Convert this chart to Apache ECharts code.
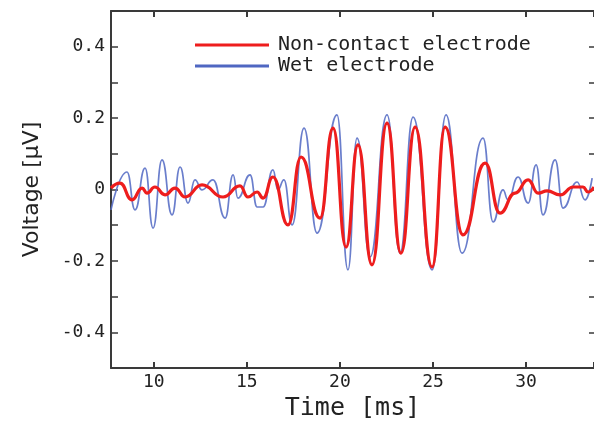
<!DOCTYPE html>
<html>
<head>
<meta charset="utf-8" />
<title>Voltage vs time</title>
<style>html,body{margin:0;padding:0;background:#fff}#chart{width:594px;height:421px}</style>
<script src="https://cdn.jsdelivr.net/npm/echarts@6.0.0/dist/echarts.min.js"></script>
</head>
<body>
<div id="chart"></div>
<script>
// time [ms] / voltage [µV] pairs
const nonContactT = [7.70, 8.18, 8.83, 9.37, 9.63, 10.06, 10.60, 11.14, 11.68, 12.59, 13.72, 14.63, 15.06, 15.55, 15.87, 16.40, 17.21, 17.91, 18.93, 19.63, 20.33, 20.97, 21.72, 22.53, 23.28, 24.04, 24.95, 25.65, 26.61, 27.80, 28.60, 29.41, 30.11, 30.65, 31.13, 31.83, 32.53, 33.06, 33.33, 33.65];
const nonContactV = [0.004, 0.018, -0.029, 0.004, -0.010, 0.007, -0.015, 0.004, -0.021, 0.013, -0.021, 0.010, -0.021, -0.007, -0.024, 0.035, -0.099, 0.091, -0.080, 0.172, -0.161, 0.125, -0.211, 0.186, -0.178, 0.175, -0.217, 0.175, -0.127, 0.074, -0.066, -0.010, 0.027, -0.010, -0.004, -0.015, 0.007, 0.007, -0.007, 0.007];

const wetT = [7.70, 8.56, 8.99, 9.53, 9.96, 10.44, 10.98, 11.41, 11.84, 12.21, 12.59, 13.18, 13.83, 14.26, 14.52, 15.17, 15.55, 15.87, 16.40, 16.67, 16.99, 17.43, 18.07, 18.77, 19.84, 20.43, 20.92, 21.62, 22.53, 23.23, 23.93, 24.95, 25.70, 26.56, 27.69, 28.23, 28.76, 29.03, 29.57, 30.11, 30.54, 30.91, 31.56, 31.99, 32.74, 33.17, 33.55];
const wetV = [-0.057, 0.049, -0.057, 0.060, -0.108, 0.083, -0.071, 0.063, -0.038, 0.027, -0.001, 0.027, -0.080, 0.041, -0.024, 0.041, -0.049, -0.049, 0.055, -0.001, 0.027, -0.099, 0.172, -0.122, 0.209, -0.225, 0.144, -0.189, 0.209, -0.178, 0.203, -0.225, 0.209, -0.178, 0.144, -0.091, -0.001, -0.029, 0.035, -0.038, 0.069, -0.071, 0.083, -0.052, 0.021, -0.029, 0.032];

const seriesNames = ["Non-contact electrode", "Wet electrode"];
const xTicks = [10, 15, 20, 25, 30];
const yLabelTicks = [-0.4, -0.2, 0, 0.2, 0.4];

const font = "DejaVu Sans Mono";
const axisColor = "#3a3a3a";

const pairs = (t, v) => t.map((x, i) => [x, v[i]]);

const chart = echarts.init(document.getElementById("chart"), null, { renderer: "canvas" });

const xBase = {
  type: "value", min: 7.7, max: 33.65, splitNumber: 5,
  axisLine: { show: true, onZero: false, lineStyle: { color: axisColor, width: 2 } },
  axisTick: { inside: true, length: 6, lineStyle: { color: axisColor, width: 2 } },
  splitLine: { show: false },
};
const yBase = {
  type: "value", min: -0.5, max: 0.5, interval: 0.1,
  axisTick: { inside: true, length: 7, lineStyle: { color: axisColor, width: 1.5 } },
  splitLine: { show: false },
};

chart.setOption({
  backgroundColor: "#ffffff",
  animation: false,
  grid: { left: 111, right: 0, top: 11, bottom: 53, outerBoundsMode: "none", containLabel: false },
  legend: {
    orient: "vertical", left: 190, top: 30, itemGap: 1,
    itemWidth: 74, itemHeight: 3, icon: "rect",
    data: seriesNames,
    textStyle: { fontFamily: font, fontSize: 20, color: "#222", padding: [0, 0, 0, 4] },
  },
  xAxis: [
    Object.assign({}, xBase, {
      position: "bottom",
      name: "Time [ms]", nameLocation: "middle", nameGap: 20,
      nameTextStyle: { fontFamily: font, fontSize: 25, color: "#222" },
      axisLabel: {
        margin: 5, fontFamily: font, fontSize: 18, color: "#222",
        formatter: (v) => (xTicks.includes(v) ? String(v) : ""),
      },
    }),
    Object.assign({}, xBase, { position: "top", axisLabel: { show: false } }),
  ],
  yAxis: [
    Object.assign({}, yBase, {
      position: "left",
      axisLine: { show: true, onZero: false, lineStyle: { color: axisColor, width: 2 } },
      name: "Voltage [µV]", nameLocation: "middle", nameGap: 68,
      nameTextStyle: { fontFamily: "DejaVu Sans", fontSize: 22, color: "#222" },
      axisLabel: {
        margin: 6, fontFamily: font, fontSize: 18, color: "#222",
        formatter: (v) => {
          const r = Math.round(v * 10) / 10;
          return yLabelTicks.some((t) => Math.abs(t - r) < 1e-6) ? (r === 0 ? "0" : r.toFixed(1)) : "";
        },
      },
    }),
    Object.assign({}, yBase, {
      position: "right",
      axisLine: { show: false, onZero: false },
      axisTick: { inside: true, length: 5, lineStyle: { color: axisColor, width: 1.5 } },
      axisLabel: { show: false },
    }),
  ],
  series: [
    {
      name: seriesNames[0], type: "line", xAxisIndex: 0, yAxisIndex: 0,
      data: pairs(nonContactT, nonContactV),
      smooth: 0.5, smoothMonotone: "x", showSymbol: false, z: 4,
      itemStyle: { color: "#ee1d1d" },
      lineStyle: { color: "#ee1d1d", width: 3.2 },
    },
    {
      name: seriesNames[1], type: "line", xAxisIndex: 0, yAxisIndex: 0,
      data: pairs(wetT, wetV),
      smooth: 0.5, smoothMonotone: "x", showSymbol: false, z: 3,
      itemStyle: { color: "#4f67c2" },
      lineStyle: { color: "#5a70c6", width: 1.7, opacity: 0.9 },
    },
  ],
});
</script>
</body>
</html>
